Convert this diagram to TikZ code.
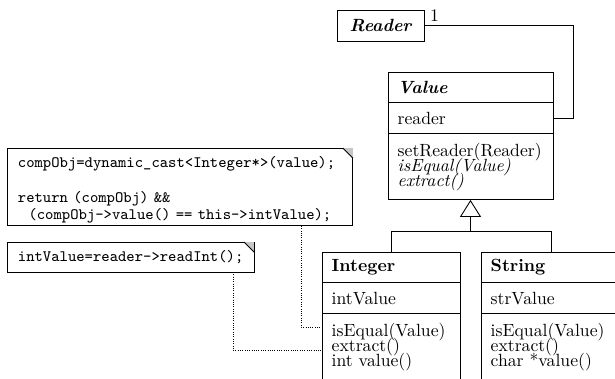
\documentclass[tikz,border=0pt]{standalone}
\usepackage{fontspec}
\usetikzlibrary{positioning,arrows.meta}

\newcommand\opsfont{\fontsize{10}{8.5}\selectfont\lineskiplimit=-\maxdimen}

\tikzset{
  classpart/.style={draw, rectangle, outer sep=0pt, inner xsep=5.5pt, inner ysep=0pt,
    minimum height=17.5pt, text width=#1, align=left},
  classops/.style={classpart=#1, minimum height=37.4pt, font=\opsfont},
  codenote/.style={draw, rectangle, anchor=north west, outer sep=0pt, inner xsep=6.2pt,
    inner ysep=0pt, text width=#1, align=left,
    font=\fontsize{9}{8.1}\selectfont\ttfamily},
}

\begin{document}
\begin{tikzpicture}[x=0.566pt, y=-0.566pt, line width=0.5pt]
\useasboundingbox (0,0) rectangle (615,378);

% classes
\node[draw, rectangle, minimum width=49.2pt, minimum height=17.5pt, font=\bfseries\itshape] (reader) at (380.5,25.5) {Reader};
\node[anchor=south west, inner xsep=3pt, inner ysep=2pt] (mult) at (reader.east) {1};

\node[classpart=82.4pt, anchor=north west, font=\bfseries\itshape] (valuename) at (388,72) {Value};
\node[classpart=82.4pt, below=0pt of valuename] (valueattr) {reader};
\node[classops=82.4pt, below=0pt of valueattr] (valueops) {setReader(Reader)\\ \textit{isEqual(Value)}\\ \textit{extract()}};

\node[classpart=67.1pt, anchor=north west, font=\bfseries] (intname) at (322,252) {Integer};
\node[classpart=67.1pt, below=0pt of intname] (intattr) {intValue};
\node[classops=67.1pt, below=0pt of intattr] (intops) {isEqual(Value)\\ extract()\\ int value()};

\node[classpart=68.2pt, anchor=north west, font=\bfseries] (strname) at (481,252) {String};
\node[classpart=68.2pt, below=0pt of strname] (strattr) {strValue};
\node[classops=68.2pt, below=0pt of strattr] (strops) {isEqual(Value)\\ extract()\\ char *value()};

% notes
\node[codenote=183.4pt, minimum height=44.1pt] (note1) at (7,148) {\rule{0pt}{9.5pt}compObj=dynamic\_cast<Integer*>(value);\\[10.4pt]
return (compObj) \&\&\\
\ \ (compObj->value() == this->intValue);};
\node[codenote=127.4pt, minimum height=17pt] (note2) at (7,242) {intValue=reader->readInt();};

\foreach \n in {note1, note2} {
  \fill[gray!45] (\n.north east) -- ++(-5.7pt,0) -- ++(5.7pt,-5.7pt) -- cycle;
  \draw (\n.north east) ++(-5.7pt,0) -- ++(5.7pt,-5.7pt);
}

% association
\coordinate (assocbend) at (573,25.5);
\draw (reader.east) -- (assocbend) |- (valueattr.east);

% generalization
\coordinate[below=18.1pt of valueops] (genjoin);
\draw[-{Triangle[open, length=9.6pt, width=11.9pt]}] (genjoin) -- (valueops.south);
\draw (intname.north) |- (genjoin) -| (strname.north);

% note links
\coordinate (eqbend) at (301,327);
\coordinate (exbend) at (233,350);
\draw[line width=0.45pt, dash pattern=on 0.5pt off 0.8pt] (note1.south -| eqbend) |- (eqbend -| intops.west);
\draw[line width=0.45pt, dash pattern=on 0.5pt off 0.8pt] (note2.south -| exbend) |- (exbend -| intops.west);
\end{tikzpicture}
\end{document}
